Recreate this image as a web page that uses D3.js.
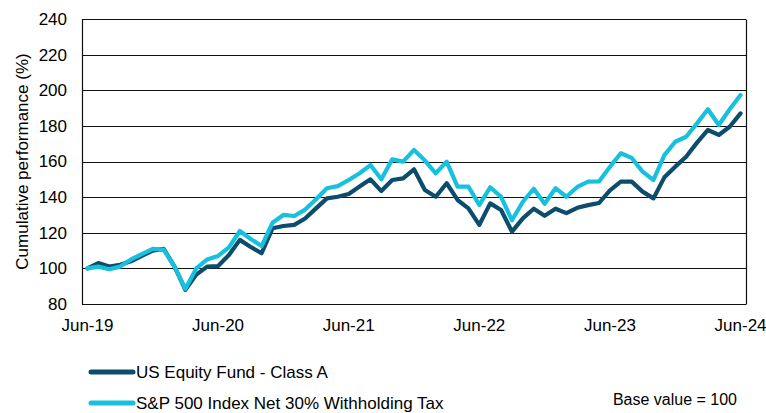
<!DOCTYPE html>
<html>
<head>
<meta charset="utf-8">
<script src="https://cdn.jsdelivr.net/npm/d3@7"></script>
<style>
  html, body { margin: 0; padding: 0; background: #fff; }
  svg { display: block; font-family: 'Liberation Sans', Arial, sans-serif; }
</style>
</head>
<body>
<svg id="chart" width="766" height="413"></svg>
<script>
// monthly points, Jun-19 .. Jun-24
const months = d3.timeMonth.range(new Date(2019, 5, 1), new Date(2024, 6, 1))
const tickLabels = ['Jun-19', 'Jun-20', 'Jun-21', 'Jun-22', 'Jun-23', 'Jun-24']
const yTicks = [80, 100, 120, 140, 160, 180, 200, 220, 240]

const fundName = 'US Equity Fund - Class A'
const fundValues = [100, 103, 101, 102, 104, 107, 110, 111, 101, 88,
  96.5, 101, 101.3, 107.5, 116, 112, 108.5, 122.5, 123.8, 124.4,
  128, 133.7, 139.3, 140.2, 141.8, 145.9, 150, 143.4, 149.6, 150.5,
  155.6, 144, 140.2, 147.8, 138.4, 133.7, 124.4, 136.5, 132.8, 120.6,
  128.1, 133.5, 129.5, 133.5, 131, 134, 135.5, 136.7, 143.8, 148.7,
  148.7, 143.1, 139.3, 151.1, 157.1, 162.7, 170.6, 177.7, 174.9, 179.5, 187]

const indexName = 'S&P 500 Index Net 30% Withholding Tax'
const indexValues = [100, 101, 99.5, 101, 105, 108, 111, 110.5, 101, 88.5,
  100, 105, 107, 111.8, 121, 116.5, 112.5, 125.6, 130, 129.4,
  133, 138.8, 145, 146.2, 149.6, 153.4, 158, 150, 161.2, 159.9,
  166.5, 160.5, 153.4, 159.9, 145.9, 145.9, 135.6, 145.5, 140.2, 127,
  137.4, 144.7, 136.3, 145, 140.2, 145.7, 148.7, 148.8, 157, 164.6,
  162, 154.3, 149.6, 163.6, 171.1, 173.9, 181.4, 189.3, 180.5, 189.3, 197.3]

const fundColor = '#0c4d6c'
const indexColor = '#17c1de'

const svg = d3.select('#chart')
const fmt = d3.timeFormat('%b-%y')

const plot = { left: 82, right: 746, top: 19, bottom: 304 }

const x = d3.scalePoint()
    .domain(months.map(fmt))
    .range([plot.left, plot.right])
    .padding(0.5)

const y = d3.scaleLinear()
    .domain([80, 240])
    .range([plot.bottom, plot.top])

// gridlines
svg.append('g')
    .selectAll('line')
    .data(yTicks)
    .join('line')
    .attr('x1', plot.left)
    .attr('x2', plot.right)
    .attr('y1', d => Math.round(y(d)) + 0.5)
    .attr('y2', d => Math.round(y(d)) + 0.5)
    .attr('stroke', '#111')
    .attr('stroke-width', 1.2)

// left and right borders
svg.append('g')
    .selectAll('line')
    .data([plot.left, plot.right])
    .join('line')
    .attr('x1', d => d + 0.5)
    .attr('x2', d => d + 0.5)
    .attr('y1', Math.round(y(240)) + 0.5)
    .attr('y2', Math.round(y(80)) + 0.5)
    .attr('stroke', '#111')
    .attr('stroke-width', 1.2)

// y tick labels
svg.append('g')
    .selectAll('text')
    .data(yTicks)
    .join('text')
    .text(d => d)
    .attr('x', 67)
    .attr('y', d => y(d))
    .attr('dy', '0.35em')
    .attr('text-anchor', 'end')
    .style('font-size', '17px')
    .attr('fill', '#000')

// x tick labels
svg.append('g')
    .selectAll('text')
    .data(tickLabels)
    .join('text')
    .text(d => d)
    .attr('x', d => x(d))
    .attr('y', 331)
    .attr('text-anchor', 'middle')
    .style('font-size', '17px')
    .attr('fill', '#000')

// y axis title
svg.append('text')
    .text('Cumulative performance (%)')
    .attr('transform', `translate(28, ${(plot.top + plot.bottom) / 2}) rotate(-90)`)
    .attr('text-anchor', 'middle')
    .style('font-size', '17px')
    .attr('fill', '#000')

const line = d3.line()
    .x((d, i) => x(fmt(months[i])))
    .y(d => y(d))

const series = [
    { name: fundName, values: fundValues, color: fundColor },
    { name: indexName, values: indexValues, color: indexColor }
]

svg.append('g')
    .selectAll('path')
    .data(series)
    .join('path')
    .attr('d', d => line(d.values))
    .attr('fill', 'none')
    .attr('stroke', d => d.color)
    .attr('stroke-width', 4.2)
    .attr('stroke-linejoin', 'round')
    .attr('stroke-linecap', 'round')

// legend
const legend = svg.append('g')
    .selectAll('g')
    .data(series)
    .join('g')
    .attr('transform', (d, i) => `translate(91, ${372 + i * 31})`)

legend.append('line')
    .attr('x1', 0)
    .attr('x2', 42)
    .attr('stroke', d => d.color)
    .attr('stroke-width', 5)
    .attr('stroke-linecap', 'round')

legend.append('text')
    .text(d => d.name)
    .attr('x', 45)
    .attr('dy', '0.35em')
    .style('font-size', '17px')
    .attr('fill', '#000')

svg.append('text')
    .text('Base value = 100')
    .attr('x', 737)
    .attr('y', 399)
    .attr('dy', '0.35em')
    .attr('text-anchor', 'end')
    .style('font-size', '16px')
    .attr('fill', '#000')
</script>
</body>
</html>
